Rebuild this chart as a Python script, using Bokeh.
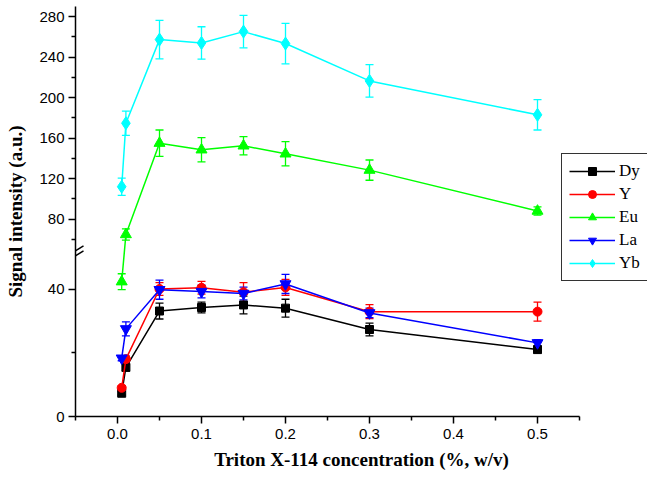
from bokeh.plotting import figure
from bokeh.models import (FixedTicker, Whisker, TeeHead, ColumnDataSource, Legend,
                          LegendItem, Arrow, Range1d)
from bokeh.embed import file_html
from bokeh.resources import INLINE

# ---- data ----
x = [0.005, 0.01, 0.05, 0.1, 0.15, 0.2, 0.3, 0.5]
dy = [7.3, 15.4, 33.1, 34.2, 35.0, 34.0, 27.3, 21.0]
dy_err = [0.6, 1.0, 2.5, 1.7, 2.8, 2.8, 2.0, 1.0]
yy = [9.0, 18.0, 40.0, 40.4, 39.0, 40.5, 32.9, 32.9]
yy_err = [0.6, 1.0, 2.0, 2.0, 3.0, 2.5, 2.2, 3.0]
eu = [42.3, 64.8, 155.0, 148.5, 152.4, 144.5, 128.4, 88.0]
eu_err = [2.5, 5.5, 13.0, 12.0, 9.0, 12.0, 10.0, 4.0]
la = [18.3, 27.5, 39.8, 39.2, 38.6, 41.6, 32.5, 23.1]
la_err = [0.8, 2.2, 3.0, 2.0, 2.0, 3.0, 1.5, 1.0]
yb = [112.0, 174.7, 257.3, 254.0, 265.2, 253.4, 216.5, 183.0]
yb_err = [8.5, 12.0, 19.0, 16.0, 16.0, 20.0, 16.0, 15.0]

x_ticks = [0.0, 0.1, 0.2, 0.3, 0.4, 0.5]
x_tick_labels = ["0.0", "0.1", "0.2", "0.3", "0.4", "0.5"]
x_minor = [-0.05, 0.05, 0.15, 0.25, 0.35, 0.45, 0.55]
y_ticks = [0, 40, 80, 120, 160, 200, 240, 280]
y_minor = [20, 60, 100, 140, 180, 220, 260]

# ---- broken y axis: lower segment 0..LOW_TOP, upper segment UP_BOT..Y_TOP ----
LOW_TOP = 51.2
UP_BOT = 46.2
Y_TOP = 290.0
SPLIT = 50.0
R = 1.0135 / 3.19


def disp(v):
    return v if v <= SPLIT else LOW_TOP + (v - UP_BOT) * R


X0, X1 = -0.05, 0.55          # drawn extent of the x axis
PX_PER_X = 840.0              # horizontal scale (pixels per unit x)
W, H = 649, 478
BL, BR, BT, BB = 75, 2, 6, 62
FW, FH = W - BL - BR, H - BT - BB
p = figure(width=W, height=H, x_range=Range1d(X0, X0 + FW / PX_PER_X),
           y_range=Range1d(0, disp(Y_TOP)), output_backend="svg",
           toolbar_location=None, min_border_left=BL, min_border_right=BR,
           min_border_top=BT, min_border_bottom=BB)
p.outline_line_color = None
p.grid.visible = False
p.background_fill_color = "white"

# axes
xa = p.xaxis[0]
xa.ticker = FixedTicker(ticks=x_ticks, minor_ticks=x_minor)
xa.major_label_overrides = dict(zip(x_ticks, x_tick_labels))
xa.bounds = (X0, X1)
ya = p.yaxis[0]
ya.ticker = FixedTicker(ticks=[round(disp(v), 4) for v in y_ticks],
                        minor_ticks=[round(disp(v), 4) for v in y_minor])
ya.major_label_overrides = {round(disp(v), 4): str(v) for v in y_ticks}

for ax in (xa, ya):
    ax.axis_line_width = 1.5
    ax.major_tick_line_width = 1.5
    ax.minor_tick_line_width = 1.5
    ax.major_tick_in = 0
    ax.major_tick_out = 7
    ax.minor_tick_in = 0
    ax.minor_tick_out = 4
    ax.major_label_text_font = "Liberation Sans"
    ax.major_label_text_font_size = "15px"
    ax.major_label_text_color = "black"
    ax.axis_label_text_font = "Liberation Serif"
    ax.axis_label_text_font_style = "bold"
    ax.axis_label_text_font_size = "19px"
    ax.axis_label_text_color = "black"
xa.axis_label = "Triton X-114 concentration (%, w/v)"
ya.axis_label = "Signal intensity (a.u.)"
xa.major_label_standoff = 5
xa.axis_label_standoff = 7
ya.major_label_standoff = 4
ya.axis_label_standoff = 10

series = [
    ("Dy", dy, dy_err, "black", "square", 8),
    ("Y", yy, yy_err, "red", "circle", 9),
    ("Eu", eu, eu_err, "#00ff00", "triangle", 11),
    ("La", la, la_err, "blue", "inverted_triangle", 11),
    ("Yb", yb, yb_err, "cyan", "diamond", 13),
]

items = []
for name, vals, errs, col, mk, sz in series:
    src = ColumnDataSource(dict(
        x=x,
        y=[disp(v) for v in vals],
        lo=[disp(v - e) for v, e in zip(vals, errs)],
        hi=[disp(v + e) for v, e in zip(vals, errs)],
    ))
    w = Whisker(source=src, base="x", upper="hi", lower="lo", dimension="height",
                line_color=col, line_width=1.3,
                upper_head=TeeHead(size=8, line_color=col, line_width=1.3),
                lower_head=TeeHead(size=8, line_color=col, line_width=1.3))
    p.add_layout(w)
    lr = p.line("x", "y", source=src, line_color=col, line_width=1.5)
    sr = p.scatter("x", "y", source=src, marker=mk, size=sz, fill_color=col,
                   line_color=col)
    items.append(LegendItem(label=name, renderers=[lr, sr]))

legend = Legend(items=items, location=(486, 135), glyph_width=46, glyph_height=20,
                label_height=20, label_width=20, label_standoff=4, spacing=3,
                padding=7, margin=0,
                label_text_font="Liberation Serif", label_text_font_size="17px",
                label_text_color="black",
                border_line_color="black", border_line_width=1.5,
                border_line_alpha=0.8, background_fill_alpha=1.0)
p.add_layout(legend, "center")

# axis-break marks
dxp = 1.0 / PX_PER_X
dyp = disp(Y_TOP) / FH
for off in (-2.5, 2.5):
    p.add_layout(Arrow(start=None, end=None,
                       x_start=X0 - 8 * dxp, y_start=LOW_TOP + (off - 5) * dyp,
                       x_end=X0 + 8 * dxp, y_end=LOW_TOP + (off + 5) * dyp,
                       line_color="black", line_width=1.5))

open("out.html", "w").write(file_html(p, INLINE))
